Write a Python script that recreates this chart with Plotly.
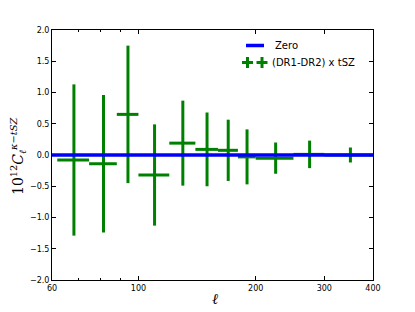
import math
import plotly.graph_objects as go

# ---- data ----
ell_lo = [61.9, 74.7, 88.0, 100.0, 120.0, 140.0, 160.0, 180.0, 200.0, 250.0, 300.0]
ell_hi = [74.7, 88.0, 100.0, 120.0, 140.0, 160.0, 180.0, 200.0, 250.0, 300.0, 400.0]
cl_vals = [-0.08, -0.14, 0.65, -0.32, 0.19, 0.09, 0.075, -0.03, -0.05, 0.01, 0.0]
cl_errs = [1.21, 1.10, 1.10, 0.81, 0.68, 0.59, 0.49, 0.44, 0.25, 0.22, 0.12]

x_range = [60, 400]
x_tickvals = [60, 100, 200, 300, 400]
x_ticktext = ["60", "100", "200", "300", "400"]
x_minor_ticks = [70, 80, 90]
y_tickvals = [-2.0, -1.5, -1.0, -0.5, 0.0, 0.5, 1.0, 1.5, 2.0]

centers = [(a + b) / 2 for a, b in zip(ell_lo, ell_hi)]
xerr_plus = [b - c for b, c in zip(ell_hi, centers)]
xerr_minus = [c - a for a, c in zip(ell_lo, centers)]

GREEN = "#008000"
BLUE = "#0000ff"

fig = go.Figure()
fig.add_trace(go.Scatter(
    x=centers, y=cl_vals, mode="markers",
    marker=dict(size=1, color=GREEN, opacity=0),
    error_y=dict(type="data", array=cl_errs, visible=True,
                 color=GREEN, thickness=3, width=0),
    error_x=dict(type="data", symmetric=False, array=xerr_plus,
                 arrayminus=xerr_minus, visible=True,
                 color=GREEN, thickness=3, width=0),
    showlegend=False, hoverinfo="skip",
))
fig.add_trace(go.Scatter(
    x=x_range, y=[0, 0], mode="lines",
    line=dict(color=BLUE, width=3.5), showlegend=False,
))

# page is offset by the 8px body margin; plot area sits at page px 52..373, 30..280
def px2paper(px, py):
    return (px - 52) / 321.0, (280 - py) / 250.0

shapes = []
x0, y0 = px2paper(246, 45.5)
x1, _ = px2paper(264, 45.5)
shapes.append(dict(type="line", xref="paper", yref="paper",
                   x0=x0, x1=x1, y0=y0, y1=y0,
                   line=dict(color=BLUE, width=3.5)))
for cx in (247.5, 262):
    cy = 62.5
    ax0, ay = px2paper(cx - 5.5, cy)
    ax1, _ = px2paper(cx + 5.5, cy)
    bx, by0 = px2paper(cx, cy - 5.5)
    _, by1 = px2paper(cx, cy + 5.5)
    shapes.append(dict(type="line", xref="paper", yref="paper",
                       x0=ax0, x1=ax1, y0=ay, y1=ay,
                       line=dict(color=GREEN, width=3)))
    shapes.append(dict(type="line", xref="paper", yref="paper",
                       x0=bx, x1=bx, y0=by0, y1=by1,
                       line=dict(color=GREEN, width=3)))

annotations = []
tx, ty = px2paper(273, 45.5)
annotations.append(dict(xref="paper", yref="paper", x=tx, y=ty,
                        text="Zero", showarrow=False, xanchor="left",
                        yanchor="middle",
                        font=dict(family="DejaVu Sans", size=10, color="black")))
tx, ty = px2paper(270, 62.5)
annotations.append(dict(xref="paper", yref="paper", x=tx, y=ty,
                        text="(DR1-DR2) x tSZ", showarrow=False, xanchor="left",
                        yanchor="middle",
                        font=dict(family="DejaVu Sans", size=10, color="black")))
annotations.append(dict(xref="paper", yref="paper", x=(215 - 52) / 321.0,
                        y=(280 - 299) / 250.0, text="<i>ℓ</i>", showarrow=False,
                        xanchor="center", yanchor="middle",
                        font=dict(family="DejaVu Serif", size=15, color="black")))
annotations.append(dict(xref="paper", yref="paper", x=(18 - 52) / 321.0,
                        y=(280 - 157) / 250.0,
                        text="10<sup>12</sup><i>C</i><sub><i>ℓ</i></sub><sup><i>κ</i>−<i>tSZ</i></sup>",
                        showarrow=False, textangle=-90,
                        xanchor="center", yanchor="middle",
                        font=dict(family="DejaVu Serif", size=14, color="black")))

axis_common = dict(showgrid=False, zeroline=False, showline=True,
                   linecolor="black", linewidth=1, mirror="ticks",
                   ticks="inside", ticklen=4, tickcolor="black",
                   tickfont=dict(family="DejaVu Sans", size=8, color="black"))

fig.update_layout(
    width=407, height=304,
    margin=dict(l=44, r=42, t=22, b=32),
    paper_bgcolor="white", plot_bgcolor="white",
    showlegend=False,
    shapes=shapes, annotations=annotations,
    xaxis=dict(type="log", range=[math.log10(x_range[0]), math.log10(x_range[1])],
               tickvals=x_tickvals, ticktext=x_ticktext,
               minor=dict(tickvals=x_minor_ticks, ticks="inside", ticklen=2,
                          tickcolor="black", showgrid=False),
               **axis_common),
    yaxis=dict(range=[-2, 2], tickvals=y_tickvals, tickformat=".1f",
               **axis_common),
)

fig.write_html("out.html")
